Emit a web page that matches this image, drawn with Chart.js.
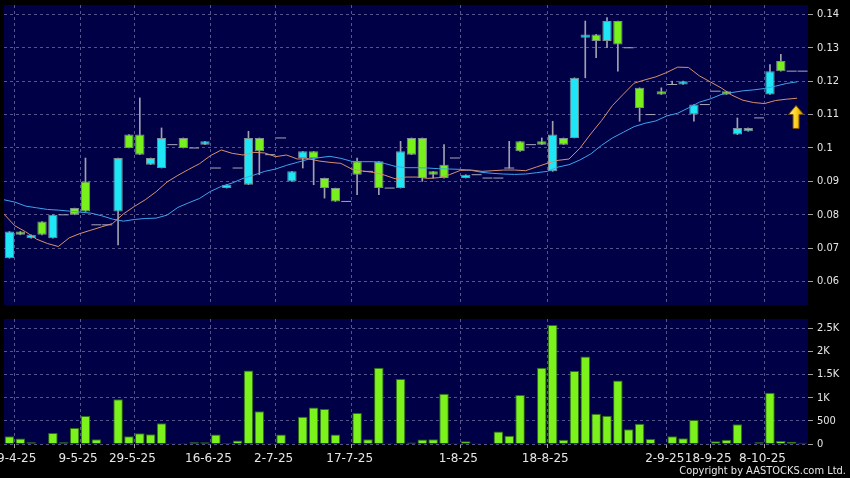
<!DOCTYPE html>
<html>
<head>
<meta charset="utf-8">
<title>Candlestick with volume</title>
<script src="https://cdn.jsdelivr.net/npm/chart.js"></script>
<style>
  html, body { margin: 0; padding: 0; background: #000; }
  #wrap { position: relative; width: 850px; height: 478px; overflow: hidden; }
  #price { position: absolute; left: 0; top: 0; }
  #vol { position: absolute; left: 0; top: 312px; }
  #copy { position: absolute; right: 4px; top: 464px; color: #e6e6e6;
          font: 11px 'DejaVu Sans Condensed', 'DejaVu Sans', sans-serif; }
</style>
</head>
<body>
<div id="wrap">
  <canvas id="price" width="850" height="312"></canvas>
  <canvas id="vol" width="850" height="166"></canvas>
  <div id="copy">Copyright by AASTOCKS.com Ltd.</div>
</div>
<script>
// one entry per trading day (74 days)
const opens = [
  .067,.075,.073,.078,.073,.080,.082,.090,.077,.077,
  .081,.104,.104,.095,.094,.101,.103,.100,.101,.094,
  .088,.094,.089,.103,.098,.103,.090,.097,.099,.091,
  .088,.084,.096,.093,.096,.088,.088,.103,.103,.093,
  .095,.097,.091,.092,.091,.091,.094,.102,.101,.102,
  .093,.103,.103,.133,.134,.132,.138,.130,.118,.110,
  .117,.119,.119,.110,.113,.117,.117,.104,.105,.109,
  .116,.126,.123,.123];
const closes = [
  .075,.074,.074,.074,.080,.080,.080,.081,.077,.077,
  .097,.100,.098,.097,.103,.101,.100,.100,.102,.094,
  .089,.094,.103,.099,.098,.103,.093,.099,.097,.088,
  .084,.084,.092,.093,.088,.088,.099,.098,.091,.092,
  .091,.097,.092,.092,.091,.091,.094,.099,.101,.101,
  .104,.101,.121,.134,.132,.138,.131,.130,.112,.110,
  .116,.119,.120,.113,.113,.117,.116,.106,.106,.109,
  .123,.123,.123,.123];
const highs = [
  .075,.075,.074,.078,.080,.080,.082,.097,.077,.077,
  .097,.104,.115,.097,.106,.101,.103,.100,.102,.094,
  .089,.094,.105,.103,.098,.103,.093,.099,.099,.091,
  .088,.084,.097,.093,.096,.088,.102,.103,.103,.093,
  .101,.097,.092,.092,.091,.091,.102,.102,.101,.103,
  .108,.103,.121,.138,.134,.139,.138,.130,.118,.110,
  .118,.120,.120,.113,.113,.117,.117,.109,.106,.109,
  .125,.128,.123,.123];
const lows = [
  .067,.074,.073,.074,.073,.080,.080,.081,.077,.077,
  .071,.100,.098,.095,.094,.101,.100,.100,.101,.094,
  .088,.094,.089,.092,.098,.103,.090,.094,.089,.085,
  .084,.084,.086,.093,.086,.088,.088,.098,.090,.091,
  .091,.097,.091,.092,.091,.091,.094,.099,.101,.101,
  .093,.101,.103,.121,.127,.130,.123,.130,.108,.110,
  .116,.119,.119,.108,.113,.117,.116,.104,.105,.109,
  .116,.123,.123,.123];
const volumes = [
  165,120,40,15,240,40,345,605,105,0,
  965,165,232,210,449,18,18,40,36,207,
  2,76,1590,706,18,207,0,590,786,757,
  207,15,670,105,1648,5,1406,30,95,105,
  1087,18,60,5,12,268,178,1058,0,1648,
  2572,90,1576,1891,652,612,1373,319,438,108,
  15,170,123,518,15,60,90,428,15,40,
  1105,65,47,25];
// moving averages (orange = short, blue = long)
const maShort = [
  .0802,.0767,.0749,.0727,.0714,.0705,.0731,.0744,.0754,.0764,
  .0774,.0803,.0825,.0845,.0869,.0898,.0918,.0936,.0953,.0977,
  .0994,.0984,.0979,.0987,.0985,.0974,.0979,.0967,.0968,.0961,
  .0957,.0954,.0937,.0931,.0927,.0919,.0908,.0913,.0913,.0909,
  .0911,.0920,.0933,.0934,.0930,.0932,.0934,.0934,.0932,.0943,
  .0954,.0963,.0967,.0999,.1042,.1082,.1127,.1161,.1194,.1204,
  .1213,.1226,.1242,.1241,.1216,.1198,.1180,.1158,.1143,.1136,
  .1133,.1142,.1146,.1149];
const maLong = [
  .0845,.0838,.0826,.0821,.0816,.0814,.0811,.0808,.0805,.0797,
  .0787,.0781,.0786,.0789,.0790,.0799,.0822,.0836,.0849,.0870,
  .0885,.0895,.0909,.0919,.0930,.0937,.0948,.0957,.0966,.0971,
  .0975,.0969,.0960,.0959,.0959,.0954,.0945,.0941,.0941,.0940,
  .0938,.0937,.0936,.0933,.0927,.0924,.0922,.0921,.0922,.0926,
  .0930,.0943,.0950,.0964,.0982,.1008,.1030,.1047,.1064,.1074,
  .1081,.1096,.1104,.1120,.1137,.1147,.1160,.1166,.1171,.1174,
  .1178,.1185,.1193,.1198];

const xTickPos = [0.5, 6.5, 11.5, 18.5, 24.5, 31.5, 41.5, 49.5, 60.5, 64.5, 69.5];
const xTickLabels = ['29-4-25','9-5-25','29-5-25','16-6-25','2-7-25','17-7-25',
                     '1-8-25','18-8-25','2-9-25','18-9-25','8-10-25'];
const priceTicks = [0.06, 0.07, 0.08, 0.09, 0.10, 0.11, 0.12, 0.13, 0.14];
const volTicks = [0, 500, 1000, 1500, 2000, 2500];
const arrowAt = { x: 72.4, y: 0.1093 };

const NAVY = '#000046';
const GRID = '#55558c';
const UP = '#1fe6f6', DOWN = '#78f01c';
const FONT = "'DejaVu Sans Condensed','DejaVu Sans',sans-serif";
const idx = opens.map((_, i) => i);

const plotBg = {
  id: 'plotBg',
  beforeDraw(chart) {
    const { ctx, chartArea: a } = chart;
    ctx.save();
    ctx.fillStyle = NAVY;
    ctx.fillRect(a.left, a.top, a.right - a.left, a.bottom - a.top);
    ctx.restore();
  }
};

function makeArrow() {
  const c = document.createElement('canvas');
  c.width = 16; c.height = 24;
  const g = c.getContext('2d');
  const grad = g.createLinearGradient(0, 0, 16, 0);
  grad.addColorStop(0, '#fff4a8');
  grad.addColorStop(0.5, '#ffd21e');
  grad.addColorStop(1, '#d08a00');
  g.beginPath();
  g.moveTo(8, 0.5); g.lineTo(15.5, 9.5); g.lineTo(11, 9.5); g.lineTo(11, 23.5);
  g.lineTo(5, 23.5); g.lineTo(5, 9.5); g.lineTo(0.5, 9.5); g.closePath();
  g.fillStyle = grad; g.fill();
  g.strokeStyle = '#7a5200'; g.lineWidth = 1; g.stroke();
  return c;
}

function xAxis(showLabels) {
  return {
    type: 'linear', min: -0.5, max: 73.5, offset: false,
    afterBuildTicks: s => { s.ticks = xTickPos.map(v => ({ value: v })); },
    afterFit: s => { s.height = showLabels ? 34 : 0; s.paddingLeft = 0; s.paddingRight = 0; },
    grid: { color: GRID, offset: false, drawTicks: showLabels, tickLength: 4, tickColor: '#a0a0a0' },
    border: { display: false, dash: [3, 3] },
    ticks: {
      display: showLabels, autoSkip: false, maxRotation: 0, padding: 4, labelOffset: -2,
      color: '#e6e6e6', font: { family: "'DejaVu Sans',sans-serif", size: 12 },
      callback: (v, i) => xTickLabels[i]
    }
  };
}

function yAxis(min, max, list, fmt) {
  return {
    type: 'linear', position: 'right', min, max,
    afterBuildTicks: s => { s.ticks = list.map(v => ({ value: v })); },
    afterFit: s => { s.width = 42; s.paddingTop = 0; s.paddingBottom = 0; },
    grid: { color: GRID, tickLength: 5, tickColor: '#a0a0a0' },
    border: { display: false, dash: [3, 3] },
    ticks: { color: '#e6e6e6', padding: 4, font: { family: FONT, size: 11 }, callback: fmt }
  };
}

const bodies = idx.filter(i => opens[i] !== closes[i]);
const flats = idx.filter(i => opens[i] === closes[i]);
const wicks = idx.filter(i => highs[i] > lows[i]);

new Chart(document.getElementById('price'), {
  type: 'bar',
  data: {
    datasets: [
      { type: 'line', data: [arrowAt], showLine: false, pointStyle: makeArrow(),
        pointRadius: 10, order: 0 },
      { type: 'line', data: maShort.map((v, i) => ({ x: i - 0.5, y: v })), borderColor: '#d8906e',
        borderWidth: 1, pointRadius: 0, tension: 0, order: 1 },
      { type: 'line', data: maLong.map((v, i) => ({ x: i - 0.5, y: v })), borderColor: '#3ca4ec',
        borderWidth: 1, pointRadius: 0, tension: 0, order: 1 },
      { type: 'bar', data: bodies.map(i => ({ x: i, y: [opens[i], closes[i]] })),
        backgroundColor: bodies.map(i => closes[i] > opens[i] ? UP : DOWN),
        borderColor: '#7f8f90', borderWidth: 1, borderSkipped: false,
        grouped: false, barPercentage: 0.86, categoryPercentage: 1, order: 2 },
      { type: 'line', data: flats.map(i => ({ x: i, y: closes[i] })), showLine: false,
        pointStyle: 'line', pointRadius: 5, pointBorderWidth: 1, pointBorderColor: '#a8a8b8', order: 3 },
      { type: 'bar', data: wicks.map(i => ({ x: i, y: [lows[i], highs[i]] })),
        backgroundColor: '#a0a0ae', barThickness: 1, grouped: false, order: 4 }
    ]
  },
  options: {
    responsive: false, animation: false, events: [],
    layout: { autoPadding: false, padding: { left: 4, top: 5, right: 0, bottom: 7 } },
    plugins: { legend: { display: false }, tooltip: { enabled: false } },
    scales: {
      x: xAxis(false),
      y: yAxis(0.053, 0.1428, priceTicks, v => String(+v.toFixed(2)))
    }
  },
  plugins: [plotBg]
});

new Chart(document.getElementById('vol'), {
  type: 'bar',
  data: {
    datasets: [{
      data: volumes.map((v, i) => ({ x: i, y: v })),
      backgroundColor: '#7cf21c', borderColor: '#2f6b10', borderWidth: 1,
      barPercentage: 0.88, categoryPercentage: 1
    }]
  },
  options: {
    responsive: false, animation: false, events: [],
    layout: { autoPadding: false, padding: { left: 4, top: 7, right: 0, bottom: 0 } },
    plugins: { legend: { display: false }, tooltip: { enabled: false } },
    scales: {
      x: xAxis(true),
      y: yAxis(0, 2700, volTicks, v => v >= 1000 ? (v / 1000) + 'K' : String(v))
    }
  },
  plugins: [plotBg]
});
</script>
</body>
</html>
